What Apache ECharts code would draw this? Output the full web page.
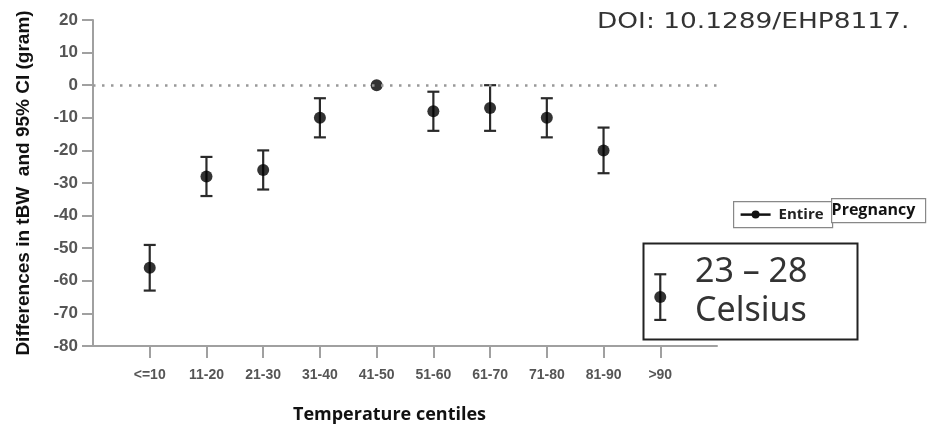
<!DOCTYPE html>
<html>
<head>
<meta charset="utf-8">
<script src="https://cdn.jsdelivr.net/npm/echarts@6/dist/echarts.min.js"></script>
<style>html,body{margin:0;padding:0;background:#fff;}#chart{width:932px;height:429px;}</style>
</head>
<body>
<div id="chart"></div>
<script>
// Data
const categories = ['', '<=10', '11-20', '21-30', '31-40', '41-50', '51-60', '61-70', '71-80', '81-90', '>90', ''];
const centileCats = ['<=10', '11-20', '21-30', '31-40', '41-50', '51-60', '61-70', '71-80', '81-90', '>90'];
const means = [-56, -28, -26, -10, 0, -8, -7, -10, -20, -65];
const ciLow = [-63, -34, -32, -16, null, -14, -14, -16, -27, -72];
const ciHigh = [-49, -22, -20, -4, null, -2, 0, -4, -13, -58];
const yTicks = { min: -80, max: 20, interval: 10 };

const pointData = centileCats.map((c, i) => [categories.indexOf(c), means[i]]);
const errData = centileCats.map((c, i) => [categories.indexOf(c), ciLow[i], ciHigh[i]])
  .filter(d => d[1] !== null);

const chart = echarts.init(document.getElementById('chart'));
const axisGray = '#a0a0a0';
const labelGray = '#555';

chart.setOption({
  animation: false,
  grid: { left: 93, right: 215, top: 20, bottom: 83, containLabel: false },
  xAxis: {
    type: 'category',
    data: categories,
    boundaryGap: false,
    axisLine: { onZero: false, lineStyle: { color: axisGray, width: 2 } },
    axisTick: { show: true, length: 12, interval: (i) => i > 0 && i < categories.length - 1, lineStyle: { color: axisGray, width: 2 } },
    axisLabel: { interval: 0, margin: 22, color: labelGray, fontFamily: 'Liberation Sans', fontWeight: 'bold', fontSize: 14 },
    splitLine: { show: false }
  },
  yAxis: {
    type: 'value',
    min: yTicks.min, max: yTicks.max, interval: yTicks.interval,
    name: 'Differences in tBW  and 95% CI (gram)',
    nameLocation: 'middle',
    nameGap: 60,
    nameTextStyle: { color: '#111', fontFamily: 'Liberation Sans', fontWeight: 'bold', fontSize: 19 },
    axisLine: { show: true, lineStyle: { color: axisGray, width: 2 } },
    axisTick: { show: true, length: 11, lineStyle: { color: axisGray, width: 2 } },
    axisLabel: { margin: 15, color: labelGray, fontFamily: 'Liberation Sans', fontWeight: 'bold', fontSize: 17 },
    splitLine: { show: false }
  },
  series: [
    {
      type: 'custom',
      name: 'CI',
      data: errData,
      encode: { x: 0, y: [1, 2] },
      z: 3,
      renderItem: function (params, api) {
        const x = api.value(0);
        const lo = api.coord([x, api.value(1)]);
        const hi = api.coord([x, api.value(2)]);
        const hw = 6;
        const style = { stroke: '#2a2a2a', lineWidth: 2.2 };
        return {
          type: 'group',
          children: [
            { type: 'line', shape: { x1: lo[0], y1: lo[1], x2: hi[0], y2: hi[1] }, style: style },
            { type: 'line', shape: { x1: lo[0] - hw, y1: lo[1], x2: lo[0] + hw, y2: lo[1] }, style: style },
            { type: 'line', shape: { x1: hi[0] - hw, y1: hi[1], x2: hi[0] + hw, y2: hi[1] }, style: style }
          ]
        };
      }
    },
    {
      type: 'scatter',
      name: 'Entire Pregnancy',
      data: pointData,
      symbol: 'circle',
      symbolSize: 12,
      z: 4,
      itemStyle: { color: '#000' },
      markLine: {
        silent: true,
        symbol: 'none',
        label: { show: false },
        lineStyle: { type: [2.5, 6.5], color: '#999', width: 2.5 },
        data: [{ yAxis: 0 }]
      }
    }
  ],
  graphic: [
    {
      type: 'text', x: 597, y: 11, scaleX: 1.2,
      style: { text: 'DOI: 10.1289/EHP8117.', font: '22px "DejaVu Sans"', fill: '#333' }
    },
    {
      type: 'text', left: 293, top: 406,
      style: { text: 'Temperature centiles', font: 'bold 18px "Open Sans"', fill: '#111' }
    },
    {
      type: 'group', left: 733, top: 198,
      children: [
        { type: 'rect', shape: { x: 0, y: 3, width: 99, height: 26 }, style: { fill: '#fff', stroke: '#888', lineWidth: 1.2 } },
        { type: 'rect', shape: { x: 98, y: 0, width: 94, height: 24 }, style: { fill: '#fff', stroke: '#888', lineWidth: 1.2 } },
        { type: 'line', shape: { x1: 7, y1: 16, x2: 37, y2: 16 }, style: { stroke: '#111', lineWidth: 2.5 } },
        { type: 'circle', shape: { cx: 22, cy: 16, r: 4 }, style: { fill: '#111' } },
        { type: 'text', x: 45, y: 16, style: { text: 'Entire', font: 'bold 15px "Open Sans"', fill: '#222', verticalAlign: 'middle' } },
        { type: 'text', x: 98, y: 12, style: { text: 'Pregnancy', font: 'bold 16px "Open Sans"', fill: '#111', verticalAlign: 'middle' } }
      ]
    },
    {
      type: 'rect', left: 641, top: 241,
      shape: { width: 214, height: 96 },
      style: { fill: 'none', stroke: '#222', lineWidth: 2 }
    },
    {
      type: 'text', left: 695, top: 255,
      style: { text: '23 – 28', font: '34px "Noto Sans"', fill: '#333' }
    },
    {
      type: 'text', left: 695, top: 294,
      style: { text: 'Celsius', font: '34px "Noto Sans"', fill: '#333' }
    }
  ]
});
</script>
</body>
</html>
